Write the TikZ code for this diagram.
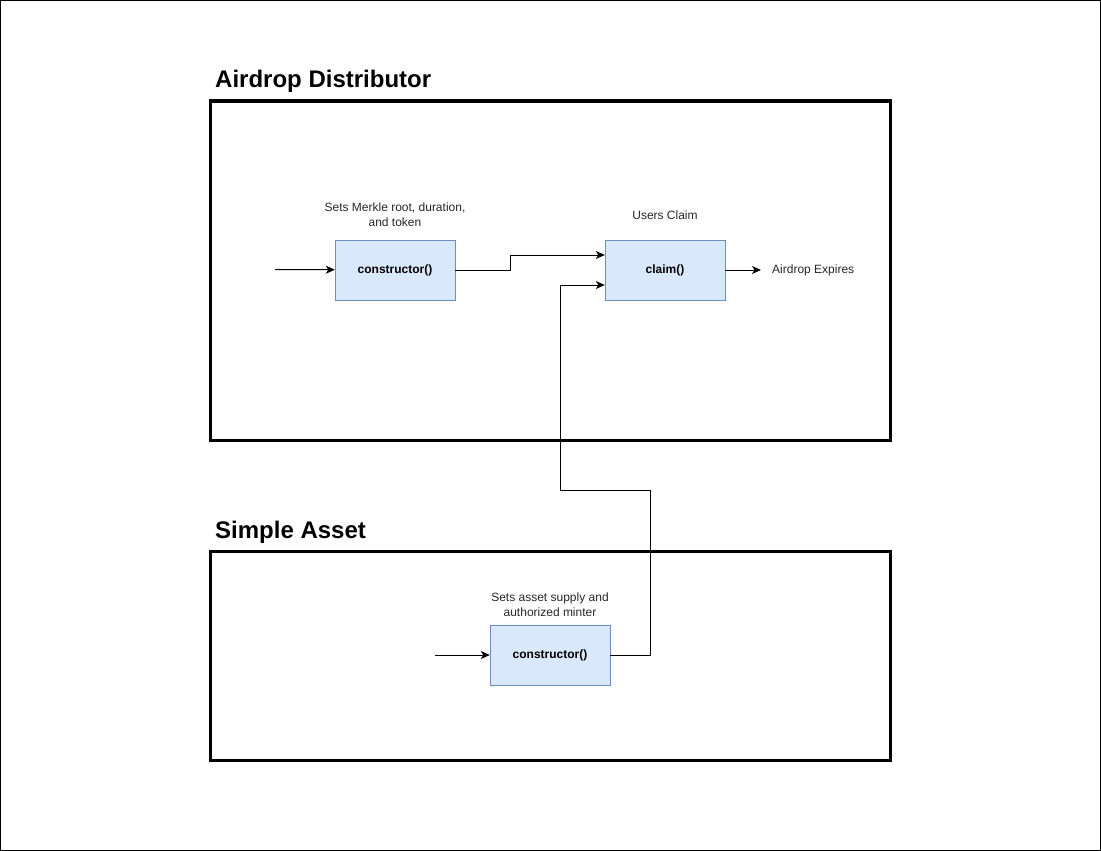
\documentclass[tikz,border=0pt]{standalone}
\usepackage{fontspec}
\setmainfont{Liberation Sans}
\usetikzlibrary{arrows.meta}
\definecolor{fnfill}{HTML}{DAE8FC}
\definecolor{fndraw}{HTML}{6C8EBF}
\tikzset{every picture/.append style={x=1pt, y=-1pt}}
\tikzset{
    fn/.style={rectangle, fill=fnfill, draw=fndraw, minimum width=120pt,
    	minimum height=60pt, inner sep=0pt, font=\fontsize{12}{14}\selectfont\bfseries},
    note/.style={align=center, inner sep=0pt, text=black!85,
    	font=\fontsize{12}{15}\selectfont},
    title/.style={anchor=base west, inner sep=0pt, font=\fontsize{24}{28}\selectfont\bfseries},
    contract/.style={draw, line width=3pt},
    flow/.style={-{Stealth[length=9pt, width=8pt, inset=2.5pt]}, line width=1pt}
}

\begin{document}
\begin{tikzpicture}
  \useasboundingbox (0,0) rectangle (1101,851);
  \draw [line width=1pt] (0.5,0.5) rectangle (1100.5,850.5);

  % contracts
  \node (dist_title) [title] at (215,88) {Airdrop Distributor};
  \draw [contract] (210,101) rectangle (890,440);
  \node (asset_title) [title] at (215,538) {Simple Asset};
  \draw [contract] (210,551) rectangle (890,760);

  % functions
  \node (ctor_d) [fn] at (395,270) {constructor()};
  \node (claim) [fn] at (665,270) {claim()};
  \node (ctor_a) [fn] at (550,655) {constructor()};
  \node (ctor_d_note) [note] at (395,215) {Sets Merkle root, duration,\\and token};
  \node (claim_note) [note] at (665,215) {Users Claim};
  \node (ctor_a_note) [note] at (550,605) {Sets asset supply and\\authorized minter};
  \node (expires) [note, anchor=west] at (772,270) {Airdrop Expires};
  \coordinate (in_d) at (275,269.5);
  \coordinate (in_a) at (435,655);

  \draw [flow] (in_d) -- (ctor_d);
  \draw [flow] (in_a) -- (ctor_a);
  \draw [flow] (ctor_d.east) -- ++(55,0) |- ([yshift=15pt]claim.west);
  \draw [flow] (ctor_a.east) -| (650,490) -| (560,285) -- ([yshift=-15pt]claim.west);
  \draw [flow] (claim.east) -- (761,270);
\end{tikzpicture}
\end{document}
